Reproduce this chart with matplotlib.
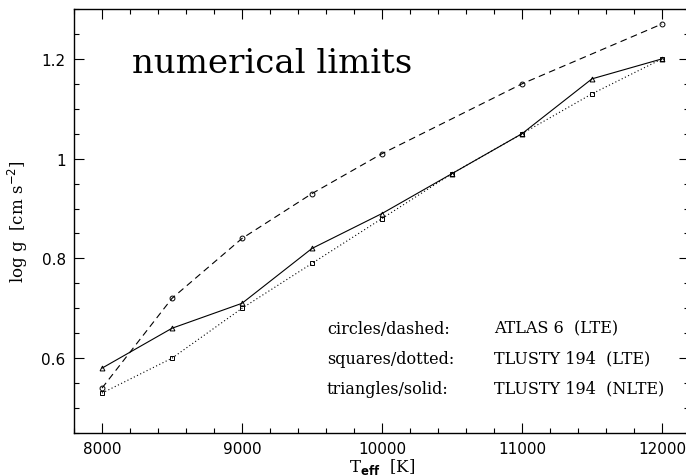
import numpy as np
import matplotlib
matplotlib.use('Agg')
import matplotlib.pyplot as plt
from matplotlib.ticker import MultipleLocator

# effective temperatures [K]
teff_atlas = [8000, 8500, 9000, 9500, 10000, 11000, 12000]
teff_tlusty = [8000, 8500, 9000, 9500, 10000, 10500, 11000, 11500, 12000]

# lowest log g reached by each model grid
logg_atlas_lte = [0.54, 0.72, 0.84, 0.93, 1.01, 1.15, 1.27]
logg_tlusty_lte = [0.53, 0.60, 0.70, 0.79, 0.88, 0.97, 1.05, 1.13, 1.20]
logg_tlusty_nlte = [0.58, 0.66, 0.71, 0.82, 0.89, 0.97, 1.05, 1.16, 1.20]

legend_keys = ['circles/dashed:', 'squares/dotted:', 'triangles/solid:']
legend_models = ['ATLAS 6  (LTE)', 'TLUSTY 194  (LTE)', 'TLUSTY 194  (NLTE)']

serif = 'DejaVu Serif'

W, H = 686, 477
fig = plt.figure(figsize=(W / 100, H / 100), dpi=100)
# frame runs just past the right edge of the canvas
ax = fig.add_axes([74 / W, 43 / H, 615 / W, 424 / H])

lw = 0.8
ax.plot(teff_atlas, logg_atlas_lte, color='k', lw=lw, dashes=(6, 4),
        marker='o', ms=3.5, mfc='none', mew=0.7)
ax.plot(teff_tlusty, logg_tlusty_lte, color='k', lw=lw, ls=(0, (1, 2.2)),
        marker='s', ms=3.2, mfc='none', mew=0.7)
ax.plot(teff_tlusty, logg_tlusty_nlte, color='k', lw=lw, ls='-',
        marker='^', ms=3.5, mfc='none', mew=0.7)

ax.set_xlim(7800, 7800 + 615 / 0.14)
ax.set_ylim(0.45, 1.3)

ax.xaxis.set_major_locator(MultipleLocator(1000))
ax.xaxis.set_minor_locator(MultipleLocator(200))
ax.yaxis.set_major_locator(MultipleLocator(0.2))
ax.yaxis.set_minor_locator(MultipleLocator(0.05))
ax.yaxis.set_major_formatter(plt.FuncFormatter(lambda v, p: f'{v:g}'))

ax.tick_params(which='both', direction='in', top=True, right=True, width=0.8)
ax.tick_params(which='major', length=7, labelsize=11, pad=6)
ax.tick_params(which='minor', length=3.5)
for s in ax.spines.values():
    s.set_linewidth(1.0)

fig.text(382 / W, 5 / H, r'T$_{\mathbf{eff}}$  [K]', fontsize=12, family=serif,
         ha='center', va='baseline')
ax.set_ylabel(r'log g  [cm s$^{-2}$]', fontsize=12, family=serif, labelpad=8)

ax.text(8214, 1.174, 'numerical limits', fontsize=24.5, family=serif,
        va='baseline', ha='left')

for i, (k, m) in enumerate(zip(legend_keys, legend_models)):
    y = 0.66 - i * 0.06
    ax.text(9607, y, k, fontsize=11.5, family=serif, va='center', ha='left')
    ax.text(10800, y, m, fontsize=11.5, family=serif, va='center', ha='left')

fig.savefig('out.png', dpi=100)
